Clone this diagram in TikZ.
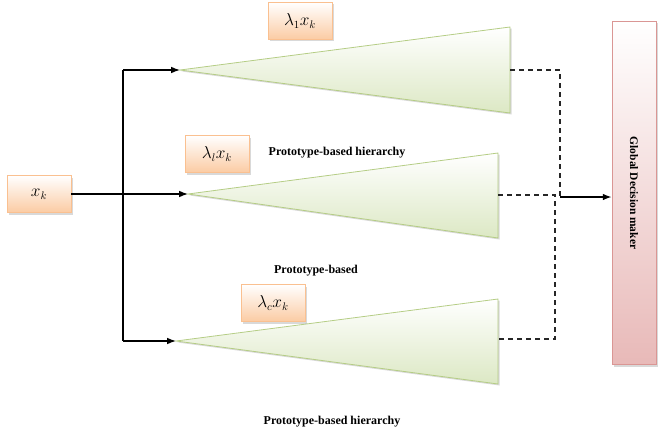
\documentclass[tikz,border=0pt]{standalone}
\usepackage{fontspec}
\setmainfont{Liberation Serif}
\usetikzlibrary{arrows.meta,shadows}
\definecolor{boxline}{HTML}{FAC090}
\definecolor{boxfill}{HTML}{FBCBA3}
\definecolor{coneline}{HTML}{B5CD85}
\definecolor{conefill}{HTML}{DCE8C4}
\definecolor{gdmline}{HTML}{DA9694}
\definecolor{gdmfill}{HTML}{E8B9B8}

\begin{document}
\begin{tikzpicture}[x=1pt,y=-1pt,>=Latex,font=\bfseries\fontsize{12}{14}\selectfont]
\tikzset{box/.style={draw=boxline,thick,top color=white,bottom color=boxfill,minimum width=64pt,minimum height=37pt,font=\fontsize{16}{18}\selectfont,drop shadow={shadow xshift=2pt,shadow yshift=-2pt,opacity=0.3}}}
\tikzset{cone/.style={draw=coneline,thick,top color=white,bottom color=conefill,drop shadow={shadow xshift=1.5pt,shadow yshift=-1.5pt,opacity=0.3}}}
\tikzset{wire/.style={line width=1.3pt,black}}
\tikzset{link/.style={line width=1.3pt,dash pattern=on 5pt off 4pt,black!85}}
\tikzset{lbl/.style={inner sep=1pt}}
\useasboundingbox (0,0) rectangle (660,436);
% cones of the three prototype hierarchies
\coordinate (tip1) at (180,70);
\coordinate (tip2) at (188,194);
\coordinate (tip3) at (176,341);
\path[cone] (tip1) -- (510,27) -- (510,113) -- cycle;
\path[cone] (tip2) -- (498,153) -- (498,238) -- cycle;
\path[cone] (tip3) -- (498,299) -- (498,384) -- cycle;
\coordinate (out1) at (510,70);
\coordinate (out2) at (498,195);
\coordinate (out3) at (498,339);
% input and weighted inputs
\node[box] (xk) at (39,194) {$x_k$};
\node[box] (l1) at (300,21) {$\lambda_1 x_k$};
\node[box] (ll) at (217,154) {$\lambda_l x_k$};
\node[box] (lc) at (273,303) {$\lambda_c x_k$};
\node[draw=gdmline,thick,top color=white,bottom color=gdmfill,minimum width=44pt,minimum height=343pt,inner sep=0pt,font=\bfseries\fontsize{11.5}{13}\selectfont,drop shadow={shadow xshift=2pt,shadow yshift=-2pt,opacity=0.3}] (gdm) at (634,193) {\rotatebox{-90}{Global Decision maker}};
\node[lbl] (h1) at (337,153) {Prototype-based hierarchy};
\node[lbl] (h2) at (316,271) {Prototype-based};
\node[lbl] (h3) at (332,422) {Prototype-based hierarchy};
% fan-out of x_k
\coordinate (up) at (123,70);
\coordinate (dn) at (123,341);
\draw[wire] (up) -- (dn);
\draw[wire,->] (xk) -- (tip2);
\draw[wire,->] (up) -- (tip1);
\draw[wire,->] (dn) -- (tip3);
% outputs to the global decision maker
\coordinate (merge1) at (560,197);
\coordinate (merge2) at (555,195);
\draw[link] (out1) -| (merge1);
\draw[link] (out2) -- (merge2) |- (out3);
\draw[wire,->] (merge1) -- (merge1 -| gdm.west);
\end{tikzpicture}
\end{document}
